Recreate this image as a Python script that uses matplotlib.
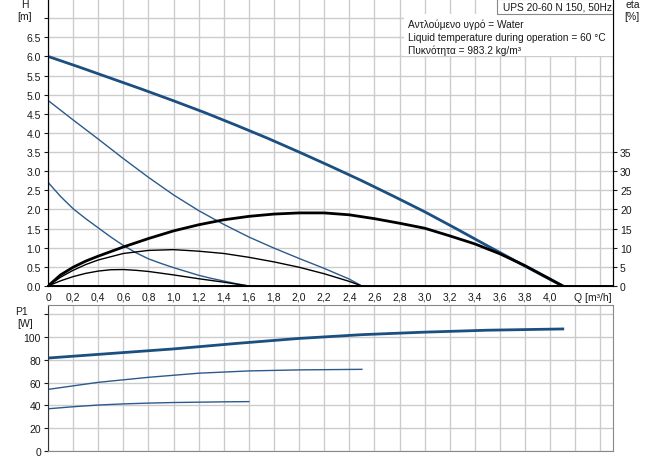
#!/usr/bin/env python3
"""Pump curve chart: head / efficiency / power input for UPS 20-60 N 150."""

from __future__ import annotations

import matplotlib

matplotlib.use("Agg")
import matplotlib.pyplot as plt
from matplotlib.patches import Rectangle
from matplotlib.ticker import FixedLocator, FuncFormatter

# flow [m3/h] and head [m] per speed step
Q_H3 = [0.0, 0.25, 0.5, 0.75, 1.0, 1.25, 1.5, 1.75, 2.0, 2.25, 2.5, 2.75, 3.0, 3.25, 3.5, 3.8, 4.0, 4.1]
H3 = [6.0, 5.72, 5.43, 5.14, 4.84, 4.53, 4.2, 3.86, 3.5, 3.13, 2.75, 2.35, 1.94, 1.5, 1.05, 0.52, 0.17, 0.0]

Q_H2 = [0.0, 0.2, 0.4, 0.6, 0.8, 1.0, 1.2, 1.4, 1.6, 1.8, 2.0, 2.2, 2.4, 2.5]
H2 = [4.85, 4.34, 3.84, 3.33, 2.84, 2.38, 1.97, 1.61, 1.28, 0.99, 0.72, 0.46, 0.18, 0.0]

Q_H1 = [0.0, 0.1, 0.2, 0.3, 0.4, 0.5, 0.6, 0.7, 0.8, 0.9, 1.0, 1.1, 1.2, 1.3, 1.4, 1.5, 1.6]
H1 = [2.71, 2.34, 2.02, 1.76, 1.52, 1.28, 1.06, 0.87, 0.71, 0.59, 0.48, 0.38, 0.28, 0.2, 0.13, 0.06, 0.0]

# efficiency [%]
Q_ETA3 = [0.0, 0.1, 0.2, 0.3, 0.4, 0.6, 0.8, 1.0, 1.2, 1.4, 1.6, 1.8, 2.0, 2.2, 2.4, 2.6, 2.8, 3.0, 3.2, 3.4, 3.6, 3.8, 4.0, 4.1]
ETA3 = [0.0, 2.9, 4.9, 6.5, 7.8, 10.2, 12.4, 14.4, 16.0, 17.3, 18.2, 18.8, 19.1, 19.1, 18.6, 17.6, 16.4, 15.1, 13.1, 11.0, 8.4, 5.3, 1.8, 0.0]

Q_ETA2 = [0.0, 0.1, 0.2, 0.3, 0.4, 0.6, 0.8, 1.0, 1.2, 1.4, 1.6, 1.8, 2.0, 2.2, 2.4, 2.5]
ETA2 = [0.0, 2.3, 4.1, 5.6, 6.8, 8.5, 9.3, 9.5, 9.1, 8.5, 7.5, 6.3, 4.9, 3.2, 1.2, 0.0]

Q_ETA1 = [0.0, 0.1, 0.2, 0.3, 0.4, 0.5, 0.6, 0.7, 0.8, 1.0, 1.2, 1.4, 1.6]
ETA1 = [0.0, 1.35, 2.45, 3.3, 3.9, 4.25, 4.3, 4.1, 3.8, 2.9, 1.9, 1.0, 0.0]

# power input P1 [W]
Q_P3 = [0.0, 0.5, 1.0, 1.5, 2.0, 2.5, 3.0, 3.5, 4.1]
P3 = [81.5, 85.5, 89.5, 94.3, 98.7, 102.0, 104.2, 105.9, 107.0]

Q_P2 = [0.0, 0.4, 0.8, 1.2, 1.6, 2.0, 2.5]
P2 = [54.0, 60.2, 64.6, 68.2, 70.2, 71.1, 71.6]

Q_P1 = [0.0, 0.2, 0.4, 0.6, 0.8, 1.0, 1.2, 1.4, 1.6]
P1 = [37.0, 38.8, 40.3, 41.3, 42.0, 42.5, 42.8, 43.1, 43.3]

Q_TICKS = [round(0.2 * i, 1) for i in range(23)]
H_TICKS = [0.5 * i for i in range(15)]
ETA_TICKS = [5 * i for i in range(8)]
P_TICKS = [20 * i for i in range(7)]

TITLE = "UPS 20-60 N 150, 50Hz"
INFO = [
    "Αντλούμενο υγρό = Water",
    "Liquid temperature during operation = 60 °C",
    "Πυκνότητα = 983.2 kg/m³",
]

W, H = 656, 460
BLUE = "#1b4f80"
BLUE_THIN = "#2c5a8c"
GRID = "#cccccc"
TXT = "#1a1a1a"


def fx(px: float) -> float:
    return px / W


def fy(py: float) -> float:
    return 1 - py / H


def _grid(ax) -> None:
    ax.grid(True, color=GRID, linewidth=1.0)
    ax.set_axisbelow(True)


def _q_label(v, _):
    if v > 4.05:
        return ""
    return "0" if v == 0 else f"{v:.1f}".replace(".", ",")


def main() -> None:
    plt.rcParams["font.family"] = ["Liberation Sans", "DejaVu Sans"]
    plt.rcParams["font.size"] = 7.5

    fig = plt.figure(figsize=(W / 100, H / 100), dpi=100)
    fig.patch.set_facecolor("white")

    left, right = fx(48), fx(613)
    ax = fig.add_axes([left, fy(287), right - left, fy(0) - fy(287)])
    axp = fig.add_axes([left, fy(452), right - left, fy(306) - fy(452)])

    # --- head / efficiency panel
    ax.set_xlim(0, 4.5)
    ax.set_ylim(0, 7.5)
    ax.xaxis.set_major_locator(FixedLocator(Q_TICKS))
    ax.yaxis.set_major_locator(FixedLocator(H_TICKS))
    ax.xaxis.set_major_formatter(FuncFormatter(_q_label))
    ax.yaxis.set_major_formatter(FuncFormatter(lambda v, _: "" if v > 6.6 else f"{v:.1f}"))
    _grid(ax)
    ax.tick_params(axis="y", length=3, width=0.8, pad=2, colors=TXT)
    ax.tick_params(axis="x", length=0, pad=4, colors=TXT)
    for side in ("left", "bottom", "right"):
        ax.spines[side].set_color("black")
    ax.spines["bottom"].set_linewidth(1.4)
    ax.spines["top"].set_visible(False)

    ax.plot(Q_H3, H3, color=BLUE, linewidth=2.0, solid_capstyle="round")
    ax.plot(Q_H2, H2, color=BLUE_THIN, linewidth=1.0)
    ax.plot(Q_H1, H1, color=BLUE_THIN, linewidth=1.0)

    eta = ax.twinx()
    eta.set_ylim(0, 75)
    eta.yaxis.set_major_locator(FixedLocator(ETA_TICKS))
    eta.tick_params(axis="y", length=3, width=0.8, pad=2, colors=TXT)
    eta.spines["right"].set_color("black")
    eta.spines["top"].set_visible(False)
    eta.plot(Q_ETA3, ETA3, color="black", linewidth=2.0)
    eta.plot(Q_ETA2, ETA2, color="black", linewidth=1.0)
    eta.plot(Q_ETA1, ETA1, color="black", linewidth=1.0)

    ax.text(4.19, -0.16, "Q [m³/h]", transform=ax.transData, ha="left", va="top", color=TXT, clip_on=False)

    # info boxes
    ax.add_patch(Rectangle((0.630, 0.801), 0.37, 0.147, transform=ax.transAxes, facecolor="white", edgecolor="none", zorder=3))
    ax.add_patch(Rectangle((0.795, 0.948), 0.205, 0.052, transform=ax.transAxes, facecolor="white", edgecolor="#888888", linewidth=0.8, zorder=3))
    ax.text(0.9975, 0.974, TITLE, transform=ax.transAxes, ha="right", va="center", fontsize=7.3, color=TXT, zorder=4)
    for i, line in enumerate(INFO):
        ax.text(0.638, 0.913 - i * 0.0455, line, transform=ax.transAxes, ha="left", va="center", fontsize=7.3, color=TXT, zorder=4)

    # --- power panel
    axp.set_xlim(0, 4.5)
    axp.set_ylim(0, 128)
    axp.xaxis.set_major_locator(FixedLocator(Q_TICKS))
    axp.yaxis.set_major_locator(FixedLocator(P_TICKS))
    axp.yaxis.set_major_formatter(FuncFormatter(lambda v, _: "" if v > 110 else f"{v:.0f}"))
    axp.set_xticklabels([])
    _grid(axp)
    axp.tick_params(axis="y", length=3, width=0.8, pad=2, colors=TXT)
    axp.tick_params(axis="x", length=0)
    axp.spines["left"].set_color("#333333")
    for side in ("top", "right", "bottom"):
        axp.spines[side].set_color("#888888")

    axp.plot(Q_P3, P3, color=BLUE, linewidth=2.0)
    axp.plot(Q_P2, P2, color=BLUE_THIN, linewidth=1.0)
    axp.plot(Q_P1, P1, color=BLUE_THIN, linewidth=1.0)

    # axis captions
    fig.text(fx(25), fy(5), "H", ha="center", va="center", color=TXT)
    fig.text(fx(25), fy(17), "[m]", ha="center", va="center", color=TXT)
    fig.text(fx(633), fy(5), "eta", ha="center", va="center", color=TXT)
    fig.text(fx(632), fy(17), "[%]", ha="center", va="center", color=TXT)
    fig.text(fx(22), fy(312), "P1", ha="center", va="center", color=TXT)
    fig.text(fx(25), fy(324), "[W]", ha="center", va="center", color=TXT)

    fig.savefig("out.png", dpi=100, facecolor=fig.get_facecolor())
    plt.close(fig)


if __name__ == "__main__":
    main()
